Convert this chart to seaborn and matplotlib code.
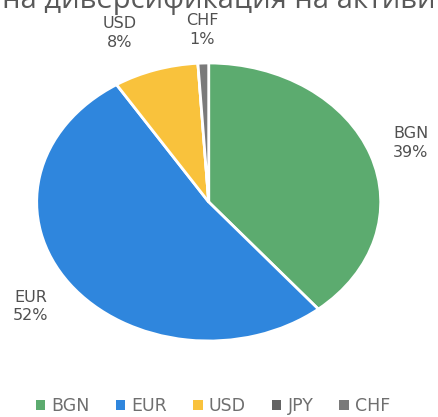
import matplotlib
matplotlib.use("Agg")
import numpy as np
import matplotlib.pyplot as plt
import seaborn as sns
from matplotlib.patches import Patch

# Currency split of the assets, in percent
currencies = ["BGN", "EUR", "USD", "JPY", "CHF"]
shares = [39, 52, 8, 0, 1]
colors = ["#5cab6f", "#2f86dd", "#f9c23c", "#636363", "#7a7a7a"]
title_text = "Валутна диверсификация на активите"

sns.set_theme(style="white")
plt.rcParams["font.family"] = ["DejaVu Sans"]

W, H = 438, 417
fig = plt.figure(figsize=(W / 100, H / 100), dpi=100)
fig.patch.set_facecolor("white")

# pie sits in a stretched box, so it is drawn as an ellipse
ax = fig.add_axes([36.7 / W, (H - 341) / H, 344 / W, 278 / H])
wedges, _ = ax.pie(
    shares,
    colors=colors,
    startangle=90,
    counterclock=False,
    wedgeprops=dict(edgecolor="white", linewidth=2.0),
)
ax.set_aspect("auto")
ax.set_xlim(-1, 1)
ax.set_ylim(-1, 1)
ax.axis("off")

# data labels: radial distance and angular nudge (degrees, counter-clockwise)
label_place = {"BGN": (1.25, 0), "EUR": (1.28, 0), "USD": (1.32, 5.0), "CHF": (1.24, 0)}
for w, name, val in zip(wedges, currencies, shares):
    if val == 0:
        continue
    dist, nudge = label_place[name]
    ang = np.deg2rad((w.theta1 + w.theta2) / 2 + nudge)
    ax.text(dist * np.cos(ang), dist * np.sin(ang), f"{name}\n{val}%",
            ha="center", va="center", fontsize=11.5, color="#505050",
            linespacing=1.3, clip_on=False)

# title wider than the canvas, clipped on both sides
fig.canvas.draw()
renderer = fig.canvas.get_renderer()
title_font = dict(fontsize=21, family=["Open Sans", "DejaVu Sans"])
probe = fig.text(0, 0, "Валут", **title_font)
prefix_w = probe.get_window_extent(renderer).width
probe.remove()
fig.text((2 - prefix_w) / W, 1 - 8 / H, title_text, color="#595959",
         ha="left", va="baseline", **title_font)

handles = [Patch(facecolor=c, edgecolor="none") for c in colors]
fig.legend(handles, currencies, loc="center", ncol=5,
           bbox_to_anchor=(213 / W, 1 - 406 / H), frameon=False,
           handlelength=0.55, handleheight=0.55, handletextpad=0.35,
           columnspacing=1.5, fontsize=12.5, labelcolor="#6f6f6f")

fig.savefig("out.png", dpi=100, facecolor="white")
